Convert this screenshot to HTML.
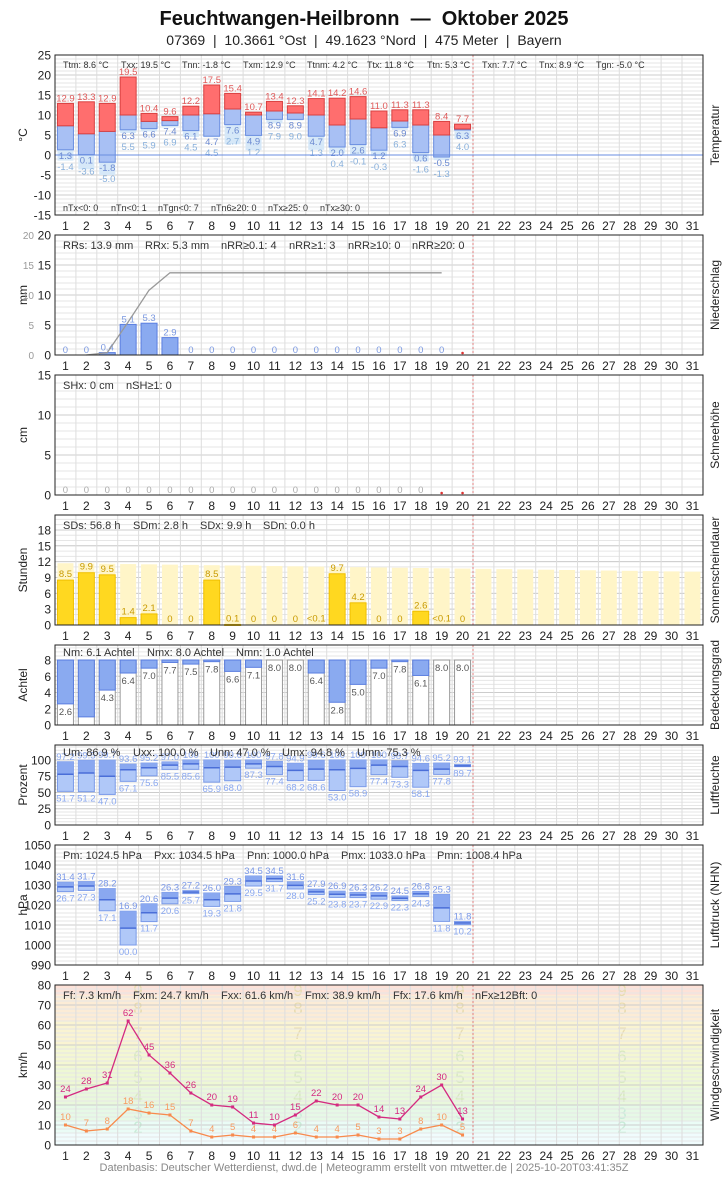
<!DOCTYPE html>
<html><head><meta charset="utf-8"><style>
body{margin:0;background:#fff;font-family:"Liberation Sans",sans-serif;}
svg text{font-family:"Liberation Sans",sans-serif;}
</style></head><body>
<svg id="s" width="728" height="1175" xmlns="http://www.w3.org/2000/svg">
<text x="364" y="25" text-anchor="middle" font-size="20" font-weight="bold" fill="#111" style="white-space:pre">Feuchtwangen-Heilbronn  —  Oktober 2025</text>
<text x="364" y="45" text-anchor="middle" font-size="14" fill="#222" style="white-space:pre">07369  |  10.3661 °Ost  |  49.1623 °Nord  |  475 Meter  |  Bayern</text>
<text x="364" y="1171" text-anchor="middle" font-size="11" fill="#888">Datenbasis: Deutscher Wetterdienst, dwd.de | Meteogramm erstellt von mtwetter.de | 2025-10-20T03:41:35Z</text>
<g id="g"></g>
</svg>
<script>
const S=document.getElementById('g');const NS='http://www.w3.org/2000/svg';
function el(t,a,txt){const e=document.createElementNS(NS,t);for(const k in a)e.setAttribute(k,a[k]);if(txt!==undefined)e.textContent=txt;S.appendChild(e);return e;}
const W=20.9,X0=55,X1=703;const cx=d=>X0+W*(d-0.5);
function txt(x,y,s,o){o=o||{};return el('text',Object.assign({x:x,y:y,'font-size':o.fs||10,fill:o.c||'#333','text-anchor':o.a||'middle'},o.ex||{}),s);}
const P=[
{t:55,b:215,mn:-15,mx:25,st:5,sub:1,lab:'°C',r:'Temperatur'},
{t:235,b:355,mn:0,mx:20,st:5,sub:1,lab:'mm',r:'Niederschlag'},
{t:375,b:495,mn:0,mx:15,st:5,sub:1,lab:'cm',r:'Schneehöhe'},
{t:515,b:625,mn:0,mx:20.83,st:3,sub:1,lab:'Stunden',r:'Sonnenscheindauer',tm:18},
{t:645,b:725,mn:0,mx:9.85,st:2,sub:0.5,lab:'Achtel',r:'Bedeckungsgrad',tm:8},
{t:745,b:825,mn:0,mx:123,st:25,sub:5,lab:'Prozent',r:'Luftfeuchte',tm:100},
{t:845,b:965,mn:990,mx:1050,st:10,sub:2,lab:'hPa',r:'Luftdruck (NHN)'},
{t:985,b:1145,mn:0,mx:80,st:10,sub:2,lab:'km/h',r:'Windgeschwindigkeit'}];
P.forEach(p=>{p.y=v=>p.b-(v-p.mn)*(p.b-p.t)/(p.mx-p.mn);});
(function(){const p=P[7];const bf=[0,6,12,20,29,39,50,62,75,80];const cols=['#f0fcfd','#eafcf6','#e6f9e6','#e9f8dc','#eef8d4','#f4f7d2','#faf4d2','#fcecd6','#fde2d8'];
for(let i=0;i<9;i++)el('rect',{x:X0,y:p.y(bf[i+1]),width:X1-X0,height:p.y(bf[i])-p.y(bf[i+1]),fill:cols[i]});
[[138],[298],[460],[622]].forEach(a=>{for(let b=2;b<=9;b++){txt(a[0],p.y((bf[b-1]+bf[b])/2)+6,String(b),{fs:17,c:b<4?'#c8ecd8':(b<7?'#d8e8c0':'#e8dcb0')});}});})();
P.forEach((p,i)=>{
 for(let v=p.mn;v<=p.mx+0.01;v+=p.sub){const yy=p.y(v);if(yy<p.t)continue;el('line',{x1:X0,x2:X1,y1:yy,y2:yy,stroke:'#e6e6e6','stroke-width':1});}
 const tm=p.tm!==undefined?p.tm:p.mx;
 for(let v=p.mn;v<=tm+0.01;v+=p.st){const yy=p.y(v);el('line',{x1:X0,x2:X1,y1:yy,y2:yy,stroke:'#ccc','stroke-width':1});txt(51,yy+4.5,String(v),{fs:12,a:'end',c:'#222'});}
 for(let d=0;d<=31;d++){el('line',{x1:X0+W*d,x2:X0+W*d,y1:p.t,y2:p.b,stroke:'#ddd','stroke-width':1});}
 el('line',{x1:X0+W*20,x2:X0+W*20,y1:p.t,y2:p.b,stroke:'#e08080','stroke-width':1,'stroke-dasharray':'2,2'});
 for(let d=1;d<=31;d++)txt(cx(d),p.b+15,String(d),{fs:12,c:'#222'});
 txt(0,0,p.lab,{fs:12,c:'#222',ex:{transform:`translate(27,${(p.t+p.b)/2}) rotate(-90)`}});
 txt(0,0,p.r,{fs:12,c:'#222',ex:{transform:`translate(719,${(p.t+p.b)/2}) rotate(-90)`}});
});
function box(d,a,b,fill,stroke,w){w=w||16;const y1=Math.min(a,b),y2=Math.max(a,b);el('rect',{x:cx(d)-w/2,y:y1,width:w,height:Math.max(y2-y1,1),fill:fill,stroke:stroke||'none','stroke-width':1});}
(function(){const p=P[0];
const T=[[12.9,7.3,1.3,-1.4],[13.3,5.3,0.1,-3.6],[12.9,5.9,-1.8,-5.0],[19.5,10,6.3,5.5],[10.4,8.4,6.6,5.9],[9.6,8.6,7.4,6.9],[12.2,10,6.1,4.5],[17.5,10.3,4.7,4.5],[15.4,11.5,7.6,2.7],[10.7,10,4.9,1.2],[13.4,11,8.9,7.9],[12.3,10.5,8.9,9.0],[14.1,10,4.7,1.3],[14.2,7.5,2.0,0.4],[14.6,9,2.6,-0.1],[11.0,6.8,1.2,-0.3],[11.3,8.5,6.9,6.3],[11.3,7.5,0.6,-1.6],[8.4,5,-0.5,-1.3],[7.7,6.5,6.3,4.0]];
T.forEach((t,i)=>{const d=i+1;const lo=Math.min(t[2],t[3]);box(d,p.y(t[2]),p.y(lo),'#d6e8f8');box(d,p.y(t[1]),p.y(t[2]),'#a8c0f4','#6a8ee0');box(d,p.y(t[0]),p.y(t[1]),'#ff6e6e','#d84040');
txt(cx(d),p.y(t[0])-2,t[0].toFixed(1),{fs:9.5,c:'#e05a5a'});txt(cx(d),p.y(t[2])+9,t[2].toFixed(1),{fs:9.5,c:'#6a88d0'});txt(cx(d),p.y(t[2])+20,t[3].toFixed(1),{fs:9.5,c:'#88b0dc'});});
el('line',{x1:X0,x2:X1,y1:p.y(0),y2:p.y(0),stroke:'#6a8ee0','stroke-width':1});
[['Ttm: 8.6 °C',63],['Txx: 19.5 °C',121],['Tnn: -1.8 °C',182],['Txm: 12.9 °C',243],['Ttnm: 4.2 °C',307],['Ttx: 11.8 °C',367],['Ttn: 5.3 °C',427],['Txn: 7.7 °C',482],['Tnx: 8.9 °C',539],['Tgn: -5.0 °C',596]].forEach(a=>txt(a[1],68,a[0],{fs:9,a:'start'}));
[['nTx<0: 0',63],['nTn<0: 1',111],['nTgn<0: 7',158],['nTn6≥20: 0',211],['nTx≥25: 0',268],['nTx≥30: 0',320]].forEach(a=>txt(a[1],211,a[0],{fs:9,a:'start'}));
})();
(function(){const p=P[1];const R=[0,0,0.4,5.1,5.3,2.9,0,0,0,0,0,0,0,0,0,0,0,0,0];
R.forEach((r,i)=>{const d=i+1;if(r>0)box(d,p.y(r),p.y(0),'#8aaaf0','#5a7ee0');txt(cx(d),p.y(r)-2,String(r),{fs:9.5,c:'#7a98e0'});});
let c=0,pts=[];R.forEach((r,i)=>{c+=r;if(i>=1)pts.push(cx(i+1)+','+p.y(c));});
el('polyline',{points:pts.join(' '),fill:'none',stroke:'#999','stroke-width':1.3});
el('circle',{cx:cx(20),cy:p.b-2,r:1.3,fill:'#d33'});
[20,15,10,5,0].forEach(v=>txt(34,p.y(v)+4,String(v),{fs:10,c:'#999',a:'end'}));
[['RRs: 13.9 mm',63],['RRx: 5.3 mm',145],['nRR≥0.1: 4',221],['nRR≥1: 3',289],['nRR≥10: 0',348],['nRR≥20: 0',412]].forEach(a=>txt(a[1],249,a[0],{fs:11,a:'start'}));
})();
(function(){const p=P[2];for(let d=1;d<=18;d++)txt(cx(d),p.b-2,'0',{fs:9.5,c:'#aaa'});el('circle',{cx:cx(19),cy:p.b-2,r:1.3,fill:'#d33'});el('circle',{cx:cx(20),cy:p.b-2,r:1.3,fill:'#d33'});
txt(63,389,'SHx: 0 cm',{fs:11,a:'start'});txt(126,389,'nSH≥1: 0',{fs:11,a:'start'});})();
(function(){const p=P[3];const V=[8.5,9.9,9.5,1.4,2.1,0,0,8.5,0.1,0,0,0,0.05,9.7,4.2,0,0,2.6,0.05,0];
for(let d=1;d<=31;d++){const m=11.7-(d-1)*1.6/30;box(d,p.y(m),p.y(0),'#fff5c8');}
V.forEach((v,i)=>{const d=i+1;if(v>0.06)box(d,p.y(v),p.y(0),'#ffd820','#f0c000');const s=v==0.05?'<0.1':String(v);txt(cx(d),p.y(v)-3,s,{fs:9.5,c:'#c89a00'});});
[['SDs: 56.8 h',63],['SDm: 2.8 h',133],['SDx: 9.9 h',200],['SDn: 0.0 h',263]].forEach(a=>txt(a[1],529,a[0],{fs:11,a:'start'}));})();
(function(){const p=P[4];const V=[2.6,1.0,4.3,6.4,7.0,7.7,7.5,7.8,6.6,7.1,8.0,8.0,6.4,2.8,5.0,7.0,7.8,6.1,8.0,8.0];
V.forEach((v,i)=>{const d=i+1;box(d,p.y(8),p.y(0),'#fff','#999');if(v<8)box(d,p.y(8),p.y(v),'#8aaaf0','#5a7ee0');txt(cx(d),p.y(v)+11,v.toFixed(1),{fs:9.5,c:d==2?'#fff':'#555'});});
[['Nm: 6.1 Achtel',63],['Nmx: 8.0 Achtel',147],['Nmn: 1.0 Achtel',236]].forEach(a=>txt(a[1],656,a[0],{fs:11,a:'start'}));})();
(function(){const p=P[5];const V=[[97.2,51.7,78],[99.5,51.2,80],[99.7,47.0,75],[93.6,67.1,85],[95.2,75.6,88],[97.0,85.5,92],[100,85.6,94],[100,65.9,88],[99.6,68.0,89],[100,87.3,94],[97.8,77.4,90],[94.9,68.2,84],[99.6,68.6,86],[100,53.0,85],[100,58.9,87],[100,77.4,92],[98.7,73.3,90],[94.6,58.1,84],[95.2,77.8,86],[93.1,89.7,91]];
V.forEach((v,i)=>{const d=i+1;box(d,p.y(v[0]),p.y(v[1]),'#b0c8f8','#7a9ae8');box(d,p.y(v[0]),p.y(v[2]),'#8aa8f0');el('line',{x1:cx(d)-8,x2:cx(d)+8,y1:p.y(v[2]),y2:p.y(v[2]),stroke:'#4a6ed8','stroke-width':1.5});
txt(cx(d),p.y(v[0])-2,v[0]==100?'100':v[0].toFixed(1),{fs:9.5,c:'#8aa8f0'});txt(cx(d),p.y(v[1])+10,v[1].toFixed(1),{fs:9.5,c:'#8aa8f0'});});
[['Um: 86.9 %',63],['Uxx: 100.0 %',133],['Unn: 47.0 %',210],['Umx: 94.8 %',282],['Umn: 75.3 %',357]].forEach(a=>txt(a[1],756,a[0],{fs:11,a:'start',c:'#333'}));})();
(function(){const p=P[6];const V=[[31.4,26.7],[31.7,27.3],[28.2,17.1],[16.9,0.0],[20.6,11.7],[26.3,20.6],[27.2,25.7],[26.0,19.3],[29.3,21.8],[34.5,29.5],[34.5,31.7],[31.6,28.0],[27.9,25.2],[26.9,23.8],[26.3,23.7],[26.2,22.9],[24.5,22.3],[26.8,24.3],[25.3,11.8],[11.8,10.2]];
V.forEach((v,i)=>{const d=i+1;const a=1000+v[0],b=1000+v[1],m=(a+b)/2;box(d,p.y(a),p.y(b),'#b0c8f8','#7a9ae8');box(d,p.y(a),p.y(m),'#8aa8f0');el('line',{x1:cx(d)-8,x2:cx(d)+8,y1:p.y(m),y2:p.y(m),stroke:'#4a6ed8','stroke-width':1.5});
txt(cx(d),p.y(a)-2,v[0].toFixed(1),{fs:9.5,c:'#7a98e8'});txt(cx(d),p.y(b)+10,(v[1]<10?'0':'')+v[1].toFixed(1),{fs:9.5,c:'#8aa8f0'});});
[['Pm: 1024.5 hPa',63],['Pxx: 1034.5 hPa',154],['Pnn: 1000.0 hPa',247],['Pmx: 1033.0 hPa',341],['Pmn: 1008.4 hPa',437]].forEach(a=>txt(a[1],859,a[0],{fs:11,a:'start'}));})();
(function(){const p=P[7];const G=[24,28,31,62,45,36,26,20,19,11,10,15,22,20,20,14,13,24,30,13],M=[10,7,8,18,16,15,7,4,5,4,4,6,4,4,5,3,3,8,10,5];
[[M,'#f88a4c','#f89a60'],[G,'#d42a80','#d42a80']].forEach(s=>{el('polyline',{points:s[0].map((v,i)=>cx(i+1)+','+p.y(v)).join(' '),fill:'none',stroke:s[1],'stroke-width':1.3});
s[0].forEach((v,i)=>{el('rect',{x:cx(i+1)-1.5,y:p.y(v)-1.5,width:3,height:3,fill:s[1]});txt(cx(i+1),p.y(v)-5,String(v),{fs:9.5,c:s[2]});});});
[['Ff: 7.3 km/h',63],['Fxm: 24.7 km/h',133],['Fxx: 61.6 km/h',221],['Fmx: 38.9 km/h',305],['Ffx: 17.6 km/h',393],['nFx≥12Bft: 0',475]].forEach(a=>txt(a[1],999,a[0],{fs:11,a:'start'}));})();
P.forEach(p=>el('rect',{x:X0,y:p.t,width:X1-X0,height:p.b-p.t,fill:'none',stroke:'#222','stroke-width':1}));
</script>
</body></html>
